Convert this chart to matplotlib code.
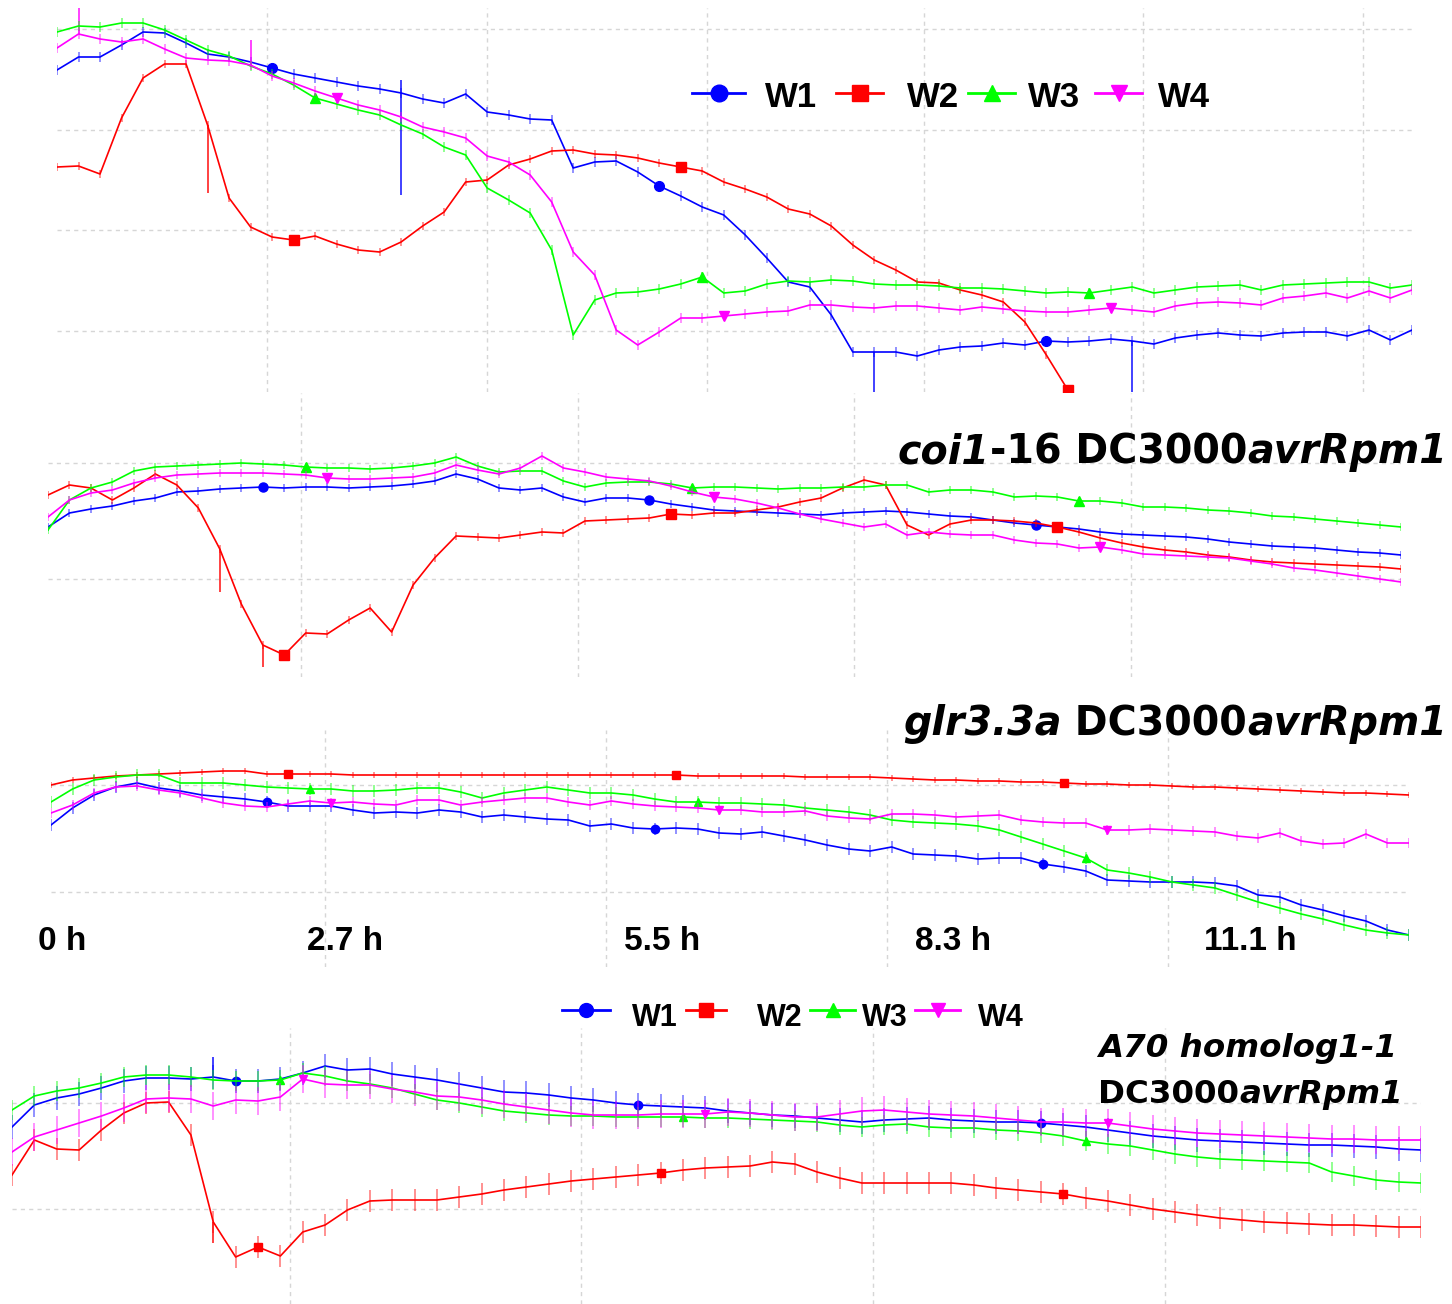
import numpy as np
import matplotlib
matplotlib.use("Agg")
import matplotlib.pyplot as plt
from matplotlib.lines import Line2D

W, H, DPI = 1452, 1304, 100
nan = np.nan

# sampling times (h), one reading every 12 min
hours = np.arange(64) * 0.2
SERIES = ["W1", "W2", "W3", "W4"]

# ---- panel 1: wild type DC3000avrRpm1 ----
p1_w1 = [3.62, 3.75, 3.75, 3.87, 4.00, 3.99, 3.89, 3.78, 3.75, 3.70,
         3.64, 3.58, 3.54, 3.50, 3.46, 3.43, 3.39, 3.33, 3.29, 3.38,
         3.20, 3.17, 3.13, 3.12, 2.64, 2.70, 2.71, 2.60, 2.46, 2.36,
         2.25, 2.17, 1.97, 1.74, 1.50, 1.45, 1.17, 0.80, 0.80, 0.80,
         0.76, 0.82, 0.85, 0.86, 0.89, 0.87, 0.91, 0.90, 0.91, 0.93,
         0.91, 0.88, 0.94, 0.97, 0.99, 0.97, 0.96, 0.99, 1.00, 1.00,
         0.96, 1.02, 0.92, 1.02]
p1_w2 = [2.65, 2.66, 2.58, 3.14, 3.54, 3.68, 3.68, 3.07, 2.34, 2.05,
         1.95, 1.92, 1.96, 1.88, 1.82, 1.80, 1.90, 2.06, 2.20, 2.50,
         2.52, 2.67, 2.73, 2.81, 2.82, 2.78, 2.77, 2.74, 2.69, 2.65,
         2.61, 2.50, 2.43, 2.35, 2.23, 2.18, 2.06, 1.87, 1.72, 1.62,
         1.50, 1.49, 1.42, 1.37, 1.30, 1.10, 0.77, 0.42, nan, nan,
         nan, nan, nan, nan, nan, nan, nan, nan, nan, nan,
         nan, nan, nan, nan]
p1_w3 = [4.00, 4.06, 4.05, 4.09, 4.09, 4.02, 3.92, 3.82, 3.76, 3.66,
         3.58, 3.47, 3.34, 3.28, 3.22, 3.17, 3.07, 2.98, 2.85, 2.77,
         2.44, 2.32, 2.19, 1.82, 0.97, 1.32, 1.39, 1.40, 1.43, 1.48,
         1.55, 1.39, 1.41, 1.48, 1.51, 1.50, 1.52, 1.51, 1.48, 1.47,
         1.47, 1.46, 1.44, 1.44, 1.43, 1.41, 1.39, 1.40, 1.39, 1.42,
         1.45, 1.39, 1.42, 1.45, 1.46, 1.47, 1.42, 1.47, 1.48, 1.49,
         1.50, 1.50, 1.44, 1.47]
p1_w4 = [3.84, 3.98, 3.93, 3.90, 3.93, 3.83, 3.74, 3.72, 3.71, 3.67,
         3.56, 3.49, 3.41, 3.34, 3.27, 3.22, 3.15, 3.05, 3.00, 2.94,
         2.76, 2.70, 2.57, 2.30, 1.80, 1.57, 1.02, 0.87, 1.00, 1.14,
         1.14, 1.16, 1.18, 1.20, 1.21, 1.27, 1.27, 1.25, 1.24, 1.26,
         1.26, 1.24, 1.22, 1.25, 1.23, 1.21, 1.20, 1.20, 1.22, 1.24,
         1.22, 1.20, 1.26, 1.29, 1.30, 1.29, 1.27, 1.34, 1.36, 1.39,
         1.34, 1.41, 1.34, 1.42]
p1_err = {"W1": 0.05, "W2": 0.04, "W3": 0.05, "W4": 0.05}
p1_spikes = [("W2", 7, 2.39, 3.07), ("W1", 16, 2.37, 3.52),
             ("W1", 38, 0.30, 0.80), ("W1", 50, 0.30, 0.91),
             ("W4", 1, 3.98, 4.30), ("W4", 9, 3.67, 3.92)]

# ---- panel 2: coi1-16 ----
p2_w1 = [1.73, 1.87, 1.91, 1.94, 1.99, 2.02, 2.08, 2.09, 2.11, 2.12,
         2.13, 2.12, 2.13, 2.13, 2.12, 2.13, 2.14, 2.16, 2.19, 2.26,
         2.21, 2.12, 2.10, 2.12, 2.03, 1.98, 2.02, 2.02, 2.00, 1.96,
         1.93, 1.90, 1.89, 1.88, 1.87, 1.86, 1.85, 1.87, 1.88, 1.89,
         1.88, 1.86, 1.84, 1.83, 1.80, 1.77, 1.75, 1.73, 1.71, 1.68,
         1.66, 1.65, 1.64, 1.63, 1.61, 1.58, 1.56, 1.54, 1.53, 1.52,
         1.50, 1.48, 1.47, 1.45]
p2_w2 = [2.05, 2.15, 2.12, 2.00, 2.12, 2.26, 2.15, 1.92, 1.51, 0.96,
         0.55, 0.45, 0.67, 0.66, 0.80, 0.92, 0.68, 1.15, 1.42, 1.64,
         1.63, 1.62, 1.65, 1.68, 1.67, 1.79, 1.80, 1.81, 1.82, 1.86,
         1.85, 1.87, 1.87, 1.90, 1.93, 1.98, 2.02, 2.12, 2.20, 2.15,
         1.75, 1.65, 1.76, 1.80, 1.80, 1.79, 1.77, 1.73, 1.68, 1.62,
         1.57, 1.53, 1.50, 1.48, 1.45, 1.43, 1.40, 1.38, 1.37, 1.36,
         1.35, 1.34, 1.33, 1.31]
p2_w3 = [1.70, 2.00, 2.12, 2.18, 2.29, 2.33, 2.34, 2.35, 2.36, 2.37,
         2.36, 2.35, 2.33, 2.32, 2.32, 2.31, 2.32, 2.34, 2.37, 2.43,
         2.34, 2.28, 2.29, 2.29, 2.19, 2.13, 2.17, 2.18, 2.18, 2.16,
         2.12, 2.13, 2.13, 2.12, 2.11, 2.12, 2.12, 2.13, 2.13, 2.15,
         2.15, 2.08, 2.10, 2.10, 2.08, 2.03, 2.04, 2.03, 1.99, 1.99,
         1.97, 1.93, 1.93, 1.92, 1.90, 1.89, 1.87, 1.84, 1.83, 1.81,
         1.79, 1.77, 1.75, 1.73]
p2_w4 = [1.83, 2.00, 2.07, 2.10, 2.17, 2.22, 2.25, 2.26, 2.27, 2.27,
         2.27, 2.26, 2.25, 2.22, 2.21, 2.21, 2.22, 2.23, 2.27, 2.35,
         2.30, 2.26, 2.32, 2.44, 2.32, 2.28, 2.23, 2.21, 2.19, 2.14,
         2.08, 2.03, 2.01, 1.97, 1.92, 1.86, 1.81, 1.77, 1.73, 1.76,
         1.65, 1.68, 1.66, 1.65, 1.65, 1.60, 1.57, 1.56, 1.52, 1.53,
         1.50, 1.46, 1.45, 1.44, 1.43, 1.42, 1.39, 1.36, 1.32, 1.30,
         1.27, 1.24, 1.21, 1.18]
p2_err = {"W1": 0.04, "W2": 0.04, "W3": 0.04, "W4": 0.04}
p2_spikes = [("W2", 8, 1.08, 1.51), ("W2", 10, 0.33, 0.55)]

# ---- panel 3: glr3.3a ----
p3_w1 = [1.75, 1.92, 2.05, 2.13, 2.17, 2.12, 2.09, 2.05, 2.03, 2.01,
         1.98, 1.94, 1.94, 1.94, 1.90, 1.87, 1.88, 1.87, 1.90, 1.88,
         1.83, 1.85, 1.83, 1.81, 1.80, 1.74, 1.76, 1.72, 1.71, 1.72,
         1.71, 1.67, 1.66, 1.68, 1.64, 1.60, 1.55, 1.51, 1.49, 1.53,
         1.46, 1.45, 1.44, 1.41, 1.42, 1.42, 1.36, 1.33, 1.29, 1.20,
         1.19, 1.18, 1.18, 1.18, 1.17, 1.14, 1.05, 1.03, 0.95, 0.90,
         0.84, 0.79, 0.70, 0.65]
p3_w2 = [2.15, 2.20, 2.22, 2.24, 2.25, 2.26, 2.27, 2.28, 2.29, 2.29,
         2.26, 2.26, 2.26, 2.26, 2.25, 2.25, 2.25, 2.25, 2.25, 2.25,
         2.25, 2.25, 2.25, 2.25, 2.25, 2.25, 2.25, 2.25, 2.25, 2.25,
         2.24, 2.24, 2.24, 2.24, 2.24, 2.23, 2.23, 2.23, 2.23, 2.22,
         2.21, 2.20, 2.20, 2.19, 2.19, 2.18, 2.18, 2.17, 2.16, 2.16,
         2.15, 2.15, 2.14, 2.13, 2.13, 2.12, 2.11, 2.10, 2.09, 2.08,
         2.07, 2.07, 2.06, 2.05]
p3_w3 = [1.98, 2.11, 2.20, 2.23, 2.25, 2.25, 2.17, 2.17, 2.17, 2.15,
         2.13, 2.12, 2.11, 2.11, 2.09, 2.09, 2.10, 2.12, 2.12, 2.08,
         2.02, 2.07, 2.10, 2.13, 2.10, 2.07, 2.07, 2.05, 2.01, 1.98,
         1.98, 1.97, 1.97, 1.96, 1.95, 1.92, 1.90, 1.88, 1.85, 1.80,
         1.78, 1.77, 1.76, 1.74, 1.70, 1.63, 1.56, 1.49, 1.42, 1.30,
         1.27, 1.23, 1.18, 1.15, 1.12, 1.05, 0.98, 0.92, 0.86, 0.81,
         0.75, 0.70, 0.67, 0.65]
p3_w4 = [1.87, 1.95, 2.07, 2.13, 2.14, 2.10, 2.07, 2.02, 1.97, 1.94,
         1.93, 1.96, 1.99, 1.97, 1.98, 1.96, 1.95, 2.00, 2.00, 1.95,
         1.98, 2.00, 2.02, 2.02, 1.98, 1.95, 1.99, 1.96, 1.94, 1.93,
         1.92, 1.90, 1.90, 1.88, 1.88, 1.89, 1.84, 1.82, 1.81, 1.86,
         1.86, 1.85, 1.83, 1.84, 1.85, 1.80, 1.78, 1.77, 1.77, 1.70,
         1.70, 1.71, 1.70, 1.69, 1.68, 1.64, 1.62, 1.67, 1.59, 1.56,
         1.57, 1.66, 1.57, 1.57]
p3_err = {"W1": 0.06, "W2": 0.03, "W3": 0.06, "W4": 0.05}
p3_spikes = []

# ---- panel 4: A70 homolog1-1 ----
p4_w1 = [2.03, 2.25, 2.32, 2.36, 2.42, 2.49, 2.52, 2.52, 2.51, 2.53,
         2.49, 2.49, 2.51, 2.57, 2.64, 2.60, 2.61, 2.56, 2.53, 2.50,
         2.46, 2.42, 2.38, 2.37, 2.35, 2.32, 2.30, 2.27, 2.25, 2.24,
         2.23, 2.22, 2.19, 2.17, 2.15, 2.14, 2.12, 2.10, 2.08, 2.10,
         2.11, 2.12, 2.10, 2.09, 2.08, 2.08, 2.07, 2.05, 2.03, 2.00,
         1.97, 1.94, 1.92, 1.90, 1.89, 1.88, 1.87, 1.86, 1.85, 1.85,
         1.84, 1.83, 1.81, 1.80]
p4_w2 = [1.55, 1.90, 1.81, 1.80, 2.00, 2.17, 2.27, 2.28, 1.95, 1.08,
         0.73, 0.83, 0.74, 0.98, 1.05, 1.20, 1.29, 1.30, 1.30, 1.30,
         1.33, 1.36, 1.40, 1.43, 1.46, 1.49, 1.51, 1.53, 1.55, 1.57,
         1.60, 1.62, 1.63, 1.64, 1.68, 1.66, 1.58, 1.52, 1.47, 1.47,
         1.47, 1.47, 1.47, 1.45, 1.42, 1.40, 1.38, 1.36, 1.32, 1.29,
         1.25, 1.21, 1.18, 1.15, 1.12, 1.10, 1.08, 1.07, 1.06, 1.05,
         1.05, 1.04, 1.03, 1.03]
p4_w3 = [2.20, 2.34, 2.39, 2.42, 2.47, 2.53, 2.55, 2.55, 2.53, 2.50,
         2.49, 2.49, 2.50, 2.57, 2.54, 2.49, 2.46, 2.42, 2.36, 2.30,
         2.27, 2.23, 2.19, 2.17, 2.15, 2.14, 2.14, 2.13, 2.13, 2.13,
         2.13, 2.12, 2.12, 2.11, 2.10, 2.09, 2.08, 2.05, 2.03, 2.05,
         2.06, 2.03, 2.02, 2.02, 2.00, 1.99, 1.97, 1.94, 1.89, 1.86,
         1.84, 1.80, 1.76, 1.73, 1.71, 1.70, 1.69, 1.68, 1.67, 1.58,
         1.54, 1.50, 1.48, 1.47]
p4_w4 = [1.78, 1.93, 2.00, 2.07, 2.14, 2.22, 2.31, 2.32, 2.31, 2.24,
         2.30, 2.29, 2.33, 2.51, 2.46, 2.45, 2.45, 2.41, 2.38, 2.34,
         2.33, 2.30, 2.26, 2.23, 2.20, 2.17, 2.15, 2.15, 2.15, 2.16,
         2.16, 2.16, 2.18, 2.17, 2.15, 2.13, 2.13, 2.16, 2.19, 2.20,
         2.18, 2.16, 2.15, 2.14, 2.12, 2.10, 2.08, 2.08, 2.07, 2.07,
         2.04, 2.01, 1.99, 1.97, 1.96, 1.95, 1.94, 1.93, 1.92, 1.91,
         1.91, 1.90, 1.90, 1.90]
p4_err = {"W1": 0.12, "W2": 0.11, "W3": 0.10, "W4": 0.14}
p4_spikes = [("W1", 9, 2.53, 2.73), ("W2", 9, 0.87, 1.08)]

time_labels = ["0 h", "2.7 h", "5.5 h", "8.3 h", "11.1 h"]

COLORS = {"W1": "#0000ff", "W2": "#ff0000", "W3": "#00ff00", "W4": "#ff00ff"}
MARKERS = {"W1": "o", "W2": "s", "W3": "^", "W4": "v"}
TITLE_FONT = "DejaVu Sans"
LABEL_FONT = "Liberation Sans"

fig = plt.figure(figsize=(W / DPI, H / DPI), dpi=DPI)
fig.patch.set_facecolor("white")


def fx(px):
    return px / W


def fy(py):
    return 1 - py / H


def add_panel(box, ylim, xgrid, ygrid, data, err, spikes, ms):
    x0, y0, x1, y1 = box
    ax = fig.add_axes([fx(x0), fy(y1), (x1 - x0) / W, (y1 - y0) / H])
    ax.set_xlim(hours[0], hours[-1])
    ax.set_ylim(*ylim)
    for s in ax.spines.values():
        s.set_visible(False)
    ax.set_xticks(xgrid)
    ax.set_yticks(ygrid)
    ax.tick_params(length=0, labelbottom=False, labelleft=False)
    ax.grid(True, color="#d6d6d6", linestyle=(0, (3, 3)), linewidth=1.0)
    ax.set_axisbelow(True)
    ax.patch.set_alpha(0)
    for k, name in enumerate(SERIES):
        y = np.asarray(data[name], dtype=float)
        c = COLORS[name]
        ax.errorbar(hours, y, yerr=err[name], fmt="none", ecolor=c,
                    elinewidth=1.1, alpha=0.55, capsize=0, zorder=2 + k)
        ax.plot(hours, y, color=c, lw=1.2, marker=MARKERS[name],
                markevery=(10 + k, 18), ms=ms, mec=c, mfc=c, zorder=3 + k)
    for name, idx, lo, hi in spikes:
        ax.vlines(hours[idx], lo, hi, color=COLORS[name], lw=1.3, alpha=0.8,
                  zorder=3)
    return ax


add_panel((57, 8, 1412, 392), (0.40, 4.24),
          [1.95, 4.00, 6.04, 8.06, 10.10, 12.14], [4.03, 3.02, 2.02, 1.01],
          {"W1": p1_w1, "W2": p1_w2, "W3": p1_w3, "W4": p1_w4},
          p1_err, p1_spikes, 7)
add_panel((48, 393, 1401, 677), (0.23, 3.07),
          [2.36, 4.94, 7.51, 10.09], [2.37, 1.21],
          {"W1": p2_w1, "W2": p2_w2, "W3": p2_w3, "W4": p2_w4},
          p2_err, p2_spikes, 6.5)
add_panel((51, 730, 1409, 967), (0.33, 2.70),
          [2.54, 5.15, 7.76, 10.36], [2.15, 1.08],
          {"W1": p3_w1, "W2": p3_w2, "W3": p3_w3, "W4": p3_w4},
          p3_err, p3_spikes, 6)
add_panel((12, 1028, 1421, 1304), (0.26, 3.02),
          [2.49, 5.09, 7.70, 10.31], [2.27, 1.21],
          {"W1": p4_w1, "W2": p4_w2, "W3": p4_w3, "W4": p4_w4},
          p4_err, p4_spikes, 6)


def legend_row(entries, y_line, y_base, size, ms):
    for name, (lx0, lx1, tx) in zip(SERIES, entries):
        c = COLORS[name]
        fig.add_artist(Line2D([fx(lx0), fx(lx1)], [fy(y_line)] * 2,
                              transform=fig.transFigure, color=c, lw=2))
        fig.add_artist(Line2D([fx((lx0 + lx1) / 2)], [fy(y_line)],
                              transform=fig.transFigure, color=c, ls="none",
                              marker=MARKERS[name], ms=ms))
        fig.text(fx(tx), fy(y_base), name, ha="left", va="baseline",
                 fontsize=size, fontweight="bold", family=LABEL_FONT)


legend_row([(692, 745, 765), (836, 883, 907), (968, 1015, 1028),
            (1095, 1142, 1158)], 93, 107, 25, 12)
legend_row([(562, 610, 632), (686, 726, 757), (810, 855, 862),
            (915, 960, 978)], 1010, 1026, 22, 10)

# time labels under the third panel
for lab, cx in zip(time_labels, [62, 345, 662, 953, 1250]):
    fig.text(fx(cx), fy(950), lab, ha="center", va="baseline", fontsize=24,
             fontweight="bold", family=LABEL_FONT)

renderer = fig.canvas.get_renderer()


def rich_text(x_px, y_base, pieces, size, align="right"):
    order = reversed(pieces) if align == "right" else pieces
    x = x_px
    for txt, style in order:
        t = fig.text(fx(x), fy(y_base), txt, ha=align, va="baseline",
                     fontsize=size, fontweight="bold", fontstyle=style,
                     family=TITLE_FONT)
        bb = t.get_window_extent(renderer)
        x = bb.x0 if align == "right" else bb.x1


rich_text(1447, 463, [("coi1", "italic"), ("-16 DC3000", "normal"),
                      ("avrRpm1", "italic")], 28.5)
rich_text(1447, 735, [("glr3.3a", "italic"), (" DC3000", "normal"),
                      ("avrRpm1", "italic")], 28.5)
rich_text(1098, 1057, [("A70 homolog1-1", "italic")], 23.4, align="left")
rich_text(1098, 1103, [("DC3000", "normal"), ("avrRpm1", "italic")], 23.4,
          align="left")

fig.savefig("out.png", dpi=DPI, facecolor="white")
